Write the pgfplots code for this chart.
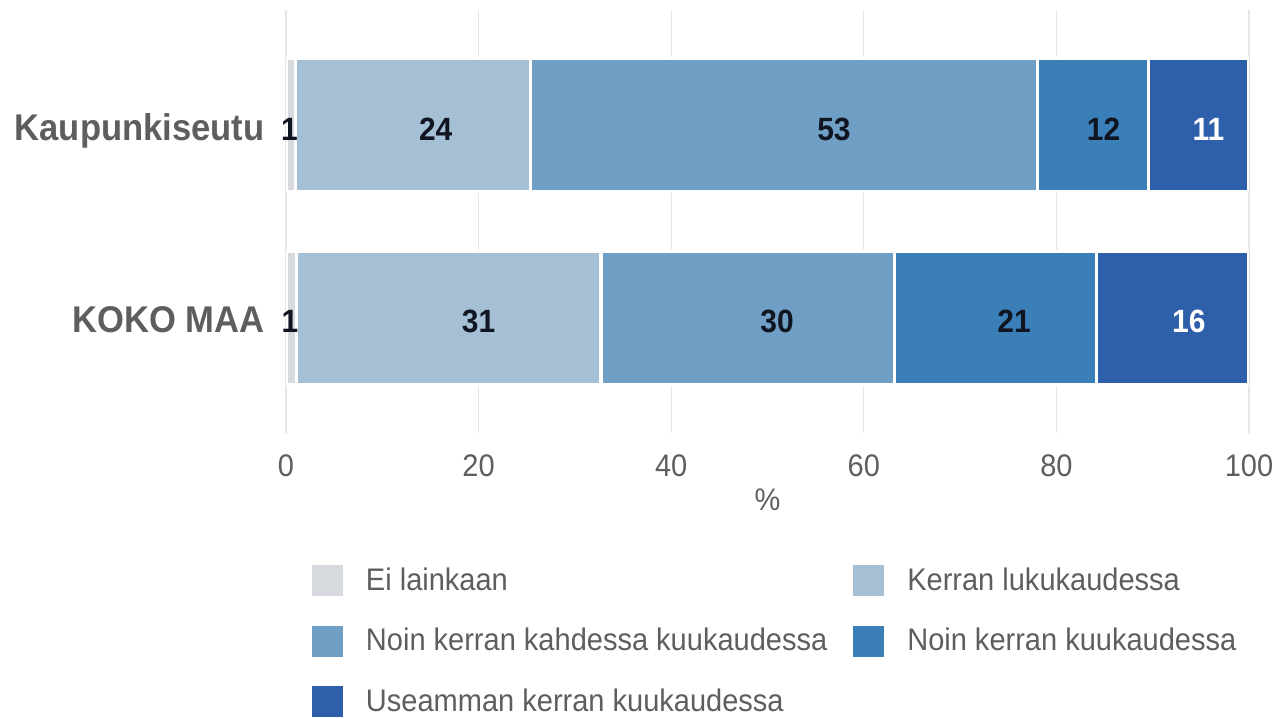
\documentclass[border=0pt]{standalone}
\usepackage{pgfplots}
\pgfplotsset{compat=1.18}
\usepackage{fontspec}
\setmainfont{Liberation Sans}[FakeStretch=0.93]
\definecolor{c1}{HTML}{D7DBDF}
\definecolor{c2}{HTML}{A5BFD4}
\definecolor{c3}{HTML}{709FC6}
\definecolor{c4}{HTML}{3A7FB8}
\definecolor{c5}{HTML}{2E5FAB}
\definecolor{txt}{HTML}{5E5E5E}
\definecolor{lab}{HTML}{101522}
\definecolor{gridc}{HTML}{E6E6E6}
\begin{document}
\begin{tikzpicture}
\pgfplotsset{
 base/.style={
  at={(143pt,142.5pt)}, anchor=south west,
  scale only axis, width=481.5pt, height=211.5pt,
  xmin=0, xmax=100, ymin=-0.596, ymax=1.596,
 }
}
\begin{axis}[base,
  xbar stacked, bar width=66.6pt,
  axis line style={draw=none},
  major tick length=0pt,
  xtick={0,20,...,100},
  ytick={0,1}, yticklabels={KOKO MAA,Kaupunkiseutu},
  xmajorgrids, grid style={color=gridc, line width=0.6pt},
  /pgf/number format/assume math mode=true,
  xticklabel style={font=\fontsize{15.6}{18}\selectfont, text=txt, anchor=base, inner sep=0pt, yshift=-21.5pt},
  yticklabel style={font=\fontsize{18.6}{21}\selectfont\bfseries, text=txt, anchor=base east, inner sep=0pt, xshift=-10.5pt, yshift=-7.5pt},
  xlabel={\%},
  xlabel style={at={(axis description cs:0.5,0)}, anchor=base, inner sep=0pt, yshift=-38.5pt, font=\fontsize{15.6}{18}\selectfont, text=txt},
  legend columns=2,
  legend image code/.code={\path[#1,draw=none] (0pt,-7.75pt) rectangle (15.5pt,7.75pt);},
  legend style={at={(axis description cs:0.027,-0.3115)}, anchor=north west,
    draw=none, fill=none, inner sep=0pt, outer sep=0pt, row sep=14.9pt,
    font=\fontsize{15.6}{18}\selectfont, text=txt, cells={anchor=west}, nodes={inner sep=0pt},
    /tikz/every odd column/.append style={column sep=11.5pt},
    /tikz/every even column/.append style={column sep=13pt}},
]
\addplot[fill=c1, draw=white, line width=1.6pt] coordinates {(1.1,0) (1.0,1)};
\addplot[fill=c2, draw=white, line width=1.6pt] coordinates {(31.6,0) (24.4,1)};
\addplot[fill=c3, draw=white, line width=1.6pt] coordinates {(30.5,0) (52.6,1)};
\addplot[fill=c4, draw=white, line width=1.6pt] coordinates {(21.0,0) (11.6,1)};
\addplot[fill=c5, draw=white, line width=1.6pt] coordinates {(15.8,0) (10.4,1)};
\legend{Ei lainkaan, Kerran lukukaudessa, Noin kerran kahdessa kuukaudessa, Noin kerran kuukaudessa, Useamman kerran kuukaudessa}
\end{axis}
\begin{axis}[base, hide axis]
\addplot[only marks, mark=none, nodes near coords, point meta=explicit symbolic,
  nodes near coords style={anchor=base, yshift=-7.5pt, inner sep=0pt, font=\fontsize{16.1}{19}\selectfont\bfseries, text=lab}]
  table[meta=l] {
x y l
0.35 1 1
15.55 1 24
56.9 1 53
84.9 1 12
0.4 0 1
20.0 0 31
51.0 0 30
75.6 0 21
};
\addplot[only marks, mark=none, nodes near coords, point meta=explicit symbolic,
  nodes near coords style={anchor=base, yshift=-7.5pt, inner sep=0pt, font=\fontsize{16.1}{19}\selectfont\bfseries, text=white}]
  table[meta=l] {
x y l
95.8 1 11
93.75 0 16
};
\end{axis}
\pgfresetboundingbox
\path[use as bounding box] (0,0) rectangle (639.5pt,359pt);
\end{tikzpicture}
\end{document}
